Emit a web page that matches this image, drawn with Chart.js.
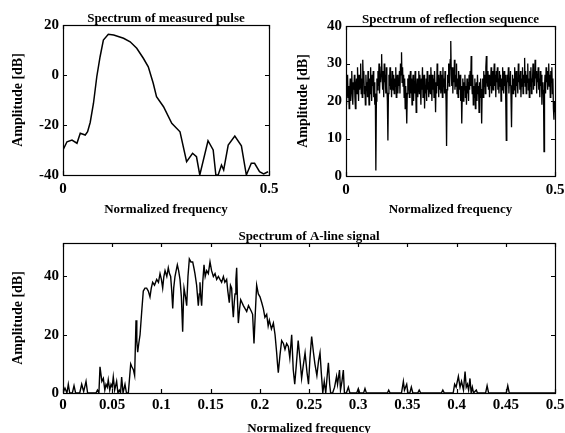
<!DOCTYPE html>
<html>
<head>
<meta charset="utf-8">
<script src="https://cdn.jsdelivr.net/npm/chart.js@4.4.1/dist/chart.umd.min.js"></script>
<style>
	html, body { margin: 0; padding: 0; background: #fff; overflow: hidden; width: 565px; height: 433px; }
	canvas { position: absolute; }
</style>
</head>
<body>
<canvas id="pulse" width="290" height="220" style="left:0;top:0"></canvas>
<canvas id="refl" width="285" height="220" style="left:280px;top:0"></canvas>
<canvas id="aline" width="565" height="217" style="left:0;top:220px"></canvas>
<script>
// ---- data ----
const pulseFreq = [0, 0.0097, 0.0218, 0.0339, 0.0419, 0.054, 0.0597, 0.066, 0.074, 0.082, 0.09, 0.098, 0.11, 0.123, 0.147, 0.163, 0.179, 0.195, 0.207, 0.219, 0.227, 0.244, 0.264, 0.284, 0.3, 0.3145, 0.324, 0.332, 0.352, 0.3645, 0.371, 0.3766, 0.3847, 0.39, 0.401, 0.417, 0.433, 0.445, 0.457, 0.465, 0.477, 0.487, 0.4976];
const pulseAmp = [-30, -26.7, -26, -27.3, -23.3, -24, -22.7, -19, -11.3, -0.7, 7.3, 14, 16.3, 16, 14.7, 13.3, 10.7, 6.7, 3.3, -3.3, -8.7, -12.7, -19.3, -22.7, -34.7, -31.3, -32.7, -40, -26.3, -30, -40, -40, -36, -38, -28, -24.4, -28.3, -40, -35.3, -35.3, -38.7, -39.6, -38.7];

// reflection sequence spectrum, evenly sampled from 0 to 0.5
const reflAmp = [
	23, 19, 25, 27, 21, 24, 18, 22, 26, 20, 24, 28, 22, 19, 25, 23, 27, 21, 18, 24,
	26, 22, 29, 24, 20, 27, 23, 25, 30, 22, 26, 21, 31, 25, 28, 22, 24, 19, 27, 23,
	25, 21, 28, 24, 19, 26, 22, 29, 23, 20, 27, 24, 28, 21, 25, 19, 22, 1.5, 20, 26,
	23, 28, 24, 30, 22, 27, 25, 29, 32.5, 26, 23, 28, 21, 30, 25, 27, 22, 29, 24, 20,
	9.5, 22, 27, 24, 29, 23, 26, 21, 28, 25, 23, 27, 22, 26, 24, 29, 21, 25, 27, 22,
	26, 24, 28, 22, 30, 27, 33, 25, 29, 24, 27, 21, 26, 18, 24, 20, 14, 22, 26, 23,
	27, 21, 25, 28, 22, 26, 19, 24, 27, 20, 25, 22, 28, 24, 17, 23, 26, 21, 25, 28,
	22, 27, 24, 19, 26, 23, 29, 21, 25, 27, 18, 24, 22, 26, 20, 28, 23, 25, 21, 27,
	24, 22, 29, 25, 20, 27, 23, 26, 21, 28, 24, 17, 25, 22, 30, 24, 27, 21, 26, 23,
	28, 22, 25, 27, 21, 29, 24, 26, 22, 28, 25, 20, 8, 23, 27, 25, 30, 24, 28, 31,
	36, 27, 24, 29, 22, 28, 25, 31, 23, 27, 24, 30, 22, 26, 21, 28, 25, 23, 27, 20,
	24, 14, 22, 26, 20, 25, 23, 27, 21, 24, 19, 26, 22, 25, 20, 27, 23, 28, 24, 32,
	25, 22, 27, 19, 24, 21, 26, 18, 23, 25, 20, 27, 22, 24, 17, 25, 21, 26, 22, 14,
	23, 26, 21, 28, 24, 27, 22, 29, 32, 26, 24, 28, 23, 27, 21, 26, 24, 29, 22, 25,
	28, 23, 26, 30, 24, 27, 21, 28, 25, 29, 23, 26, 22, 28, 24, 27, 20, 26, 23, 29,
	25, 22, 28, 24, 27, 20, 9.5, 23, 27, 25, 29, 22, 26, 24, 28, 21, 13, 24, 27, 22,
	26, 23, 29, 25, 21, 28, 24, 26, 22, 30, 25, 27, 23, 28, 21, 26, 24, 29, 22, 27,
	25, 31.5, 24, 28, 22, 27, 25, 30, 23, 26, 21, 28, 24, 29, 22, 26, 25, 30, 23, 27,
	24, 31, 26, 28, 22, 27, 25, 29, 23, 26, 21, 28, 24, 27, 19, 25, 22, 23, 6.5, 24,
	27, 22, 29, 25, 28, 23, 26, 30, 24, 27, 21, 28, 25, 29, 22, 26, 18, 15, 20, 17,
];

const alineFreq = [
	0, 0.002, 0.004, 0.0054, 0.0068, 0.0095, 0.0112, 0.0128, 0.017, 0.019, 0.021, 0.0234, 0.025,
	0.0335, 0.035, 0.0365, 0.0376, 0.0395, 0.041, 0.0425, 0.0437, 0.045, 0.046, 0.0475, 0.0488, 0.05,
	0.0511, 0.0525, 0.0545, 0.0558, 0.0572, 0.0585, 0.0596, 0.061, 0.063, 0.0645, 0.0664,
	0.0688, 0.07, 0.0715, 0.0728, 0.0742, 0.075, 0.0759, 0.077, 0.0783, 0.08, 0.0816, 0.0833, 0.085,
	0.0867, 0.0884, 0.0897, 0.0911, 0.093, 0.0952, 0.097, 0.0986, 0.1, 0.1013, 0.1025, 0.1037, 0.1055,
	0.107, 0.1082, 0.1094, 0.1105, 0.1115, 0.1125, 0.1138, 0.115, 0.1162, 0.1175, 0.1189, 0.1203,
	0.1216, 0.1223, 0.123, 0.1245, 0.1257, 0.127, 0.1284, 0.13, 0.1318, 0.133, 0.1341, 0.1358, 0.1375,
	0.1385, 0.1392, 0.14, 0.1409, 0.142, 0.1433, 0.1445, 0.146, 0.1477, 0.1494, 0.151, 0.1528, 0.1545,
	0.1562, 0.1579, 0.1595, 0.1612, 0.163, 0.1645, 0.1663, 0.1675, 0.169, 0.1702, 0.1714, 0.1722,
	0.1731, 0.174, 0.1748, 0.1757, 0.1765, 0.1773, 0.1782, 0.1795, 0.1806, 0.182, 0.1833, 0.185,
	0.1867, 0.1885, 0.19, 0.1915, 0.1927, 0.1934, 0.1941, 0.1955, 0.1968, 0.1985, 0.2002, 0.202,
	0.2036, 0.2052, 0.207, 0.2085, 0.2097, 0.2118, 0.2138, 0.2155, 0.2171, 0.218, 0.2188, 0.2205,
	0.2222, 0.224, 0.2256, 0.2273, 0.229, 0.2305, 0.2324, 0.234, 0.2355, 0.2372, 0.239, 0.241, 0.2425,
	0.244, 0.246, 0.248, 0.2495, 0.251, 0.2527, 0.2545, 0.256, 0.258, 0.2597, 0.2612, 0.2625, 0.264,
	0.2655, 0.267, 0.2685, 0.2697, 0.271, 0.272, 0.274, 0.276, 0.278, 0.279, 0.281, 0.282, 0.2835,
	0.2849, 0.286, 0.288, 0.29, 0.2915, 0.2985, 0.3001, 0.3015, 0.3055, 0.3069, 0.3083, 0.3297, 0.331,
	0.3324, 0.344, 0.3459, 0.347, 0.3493, 0.3505, 0.3525, 0.354, 0.3555, 0.3605, 0.362, 0.3635, 0.3845,
	0.386, 0.3875, 0.3965, 0.398, 0.3995, 0.4018, 0.4035, 0.405, 0.407, 0.4086, 0.4098, 0.411, 0.4122,
	0.4136, 0.4148, 0.416, 0.4172, 0.42, 0.4212, 0.4295, 0.431, 0.4325, 0.4505, 0.452, 0.4535, 0.5,
];
const alineAmp = [
	0, 1.7, 0, 3, 0, 0, 2.5, 0, 0, 3, 0.5, 4, 0,
	0, 1, 0, 9, 4, 5, 1, 3, 2, 4.5, 1, 3, 2,
	5.5, 1, 4, 0, 1, 0, 5.5, 0, 3, 0, 0,
	10, 9, 8, 6, 25, 18, 14, 17, 20, 28, 35, 36, 36,
	35, 33, 36, 38, 37, 39, 38, 41, 39, 36, 40, 42, 40,
	43, 41, 40, 35, 29, 36, 40, 42, 44, 42, 39, 33,
	21, 30, 36, 33, 30, 40, 46, 45, 45, 43, 41, 37, 30,
	34, 38, 33, 30, 38, 44, 40, 42, 41, 45, 42, 40, 41,
	39, 40, 39, 38, 40, 38, 39, 35, 31, 37, 36, 30,
	26, 31, 34, 39, 43, 32, 24, 29, 32, 31, 30, 29,
	28, 30, 29, 28, 27, 22, 17, 28, 37, 34, 33, 31,
	29, 26, 27, 23, 25, 22, 24, 20, 14, 10, 7, 13,
	18, 17, 15, 17, 16, 12, 20, 8, 3, 10, 18, 11, 5,
	9, 13.8, 7, 3, 12, 19.4, 14, 10, 6, 11, 13.8, 7, 0,
	4, 0, 6, 10.4, 3, 0, 0, 2, 5.7, 3, 7.9, 1, 4,
	7.9, 0, 0, 2, 0, 0, 1.5, 0, 0, 1.5, 0, 0, 1,
	0, 0, 4, 1, 3, 0, 0, 2, 0, 0, 1, 0, 0,
	1, 0, 0, 3, 2, 5.7, 2, 4, 1, 7.4, 2, 3, 1,
	5, 0, 2, 0, 1, 0, 0, 2.5, 0, 0, 2.5, 0, 0,
];

// ticks
const freqTicksPair = [0, 0.5];
const freqTicksFine = [0, 0.05, 0.1, 0.15, 0.2, 0.25, 0.3, 0.35, 0.4, 0.45, 0.5];
const pulseYTicks = [-40, -20, 0, 20];
const reflYTicks = [0, 10, 20, 30, 40];
const alineYTicks = [0, 20, 40];

const SERIF = "'Liberation Serif', 'Times New Roman', serif";

// box round the plot plus inward tick marks on all four sides
const boxPlugin = {
	id: "box",
	afterDraw(chart) {
		const { ctx, chartArea: a, scales } = chart;
		const len = 4;
		ctx.save();
		ctx.strokeStyle = "#000";
		ctx.lineWidth = 1.2;
		ctx.strokeRect(a.left + 0.5, a.top + 0.5, a.right - a.left, a.bottom - a.top);
		ctx.beginPath();
		scales.x.ticks.forEach((t) => {
			let px = Math.round(scales.x.getPixelForValue(t.value)) + 0.5;
			ctx.moveTo(px, a.bottom);
			ctx.lineTo(px, a.bottom - len);
			ctx.moveTo(px, a.top);
			ctx.lineTo(px, a.top + len);
		});
		scales.y.ticks.forEach((t) => {
			let py = Math.round(scales.y.getPixelForValue(t.value)) + 0.5;
			ctx.moveTo(a.left, py);
			ctx.lineTo(a.left + len, py);
			ctx.moveTo(a.right, py);
			ctx.lineTo(a.right - len, py);
		});
		ctx.stroke();
		ctx.restore();
	},
};

function fmt(v) {
	return String(Math.round(v * 100) / 100);
}

function makePlot(id, o) {
	new Chart(document.getElementById(id).getContext("2d"), {
		type: "line",
		data: {
			datasets: [
				{
					data: o.points,
					borderColor: "#000",
					borderWidth: o.lineWidth,
					pointRadius: 0,
					tension: 0,
					fill: false,
				},
			],
		},
		options: {
			responsive: false,
			animation: false,
			layout: { padding: { left: 0, right: o.padRight, top: 0, bottom: 0 } },
			plugins: {
				legend: { display: false },
				tooltip: { enabled: false },
				title: {
					display: true,
					text: o.title,
					color: "#000",
					fullSize: false,
					font: { family: SERIF, size: 13, weight: "bold", lineHeight: 1 },
					padding: { top: o.titleTop, bottom: 0 },
				},
			},
			scales: {
				x: {
					type: "linear",
					min: 0,
					max: 0.5,
					grid: { display: false, drawTicks: false },
					border: { display: false },
					ticks: {
						color: "#000",
						padding: o.xTickPad,
						maxRotation: 0,
						font: { family: SERIF, size: 15, weight: "bold" },
						callback: (v) => fmt(v),
					},
					title: {
						display: true,
						text: "Normalized frequency",
						color: "#000",
						font: { family: SERIF, size: 13, weight: "bold", lineHeight: 1 },
						padding: { top: 0, bottom: o.xTitlePad },
					},
					afterBuildTicks: (s) => {
						s.ticks = o.xTicks.map((v) => ({ value: v }));
					},
					afterFit: (s) => {
						s.height = o.xHeight;
						s.paddingLeft = 0;
						s.paddingRight = 0;
					},
				},
				y: {
					min: o.yMin,
					max: o.yMax,
					grid: { display: false, drawTicks: false },
					border: { display: false },
					ticks: {
						color: "#000",
						padding: 4,
						font: { family: SERIF, size: 15, weight: "bold" },
					},
					title: {
						display: true,
						text: "Amplitude [dB]",
						color: "#000",
						font: { family: SERIF, size: 14, weight: "bold", lineHeight: 1 },
						padding: { top: o.yTitlePad, bottom: 0 },
					},
					afterBuildTicks: (s) => {
						s.ticks = o.yTicks.map((v) => ({ value: v }));
					},
					afterFit: (s) => {
						s.width = o.yWidth;
						s.paddingTop = 0;
						s.paddingBottom = 0;
					},
				},
			},
		},
		plugins: [boxPlugin],
	});
}

makePlot("pulse", {
	title: "Spectrum of measured pulse",
	points: pulseFreq.map((f, i) => ({ x: f, y: pulseAmp[i] })),
	xTicks: freqTicksPair,
	yTicks: pulseYTicks,
	yMin: -40,
	yMax: 20,
	lineWidth: 1.5,
	padRight: 21,
	titleTop: 12,
	xHeight: 45,
	xTickPad: 5,
	xTitlePad: 4,
	yWidth: 63,
	yTitlePad: 11,
});

makePlot("refl", {
	title: "Spectrum of reflection sequence",
	points: reflAmp.map((v, i) => ({ x: (i * 0.5) / (reflAmp.length - 1), y: v })),
	xTicks: freqTicksPair,
	yTicks: reflYTicks,
	yMin: 0,
	yMax: 40,
	lineWidth: 1.3,
	padRight: 10,
	titleTop: 13,
	xHeight: 44,
	xTickPad: 5,
	xTitlePad: 4,
	yWidth: 66,
	yTitlePad: 16,
});

makePlot("aline", {
	title: "Spectrum of A-line signal",
	points: alineFreq.map((f, i) => ({ x: f, y: alineAmp[i] })),
	xTicks: freqTicksFine,
	yTicks: alineYTicks,
	yMin: 0,
	yMax: 51.5,
	lineWidth: 1.4,
	padRight: 10,
	titleTop: 10,
	xHeight: 44,
	xTickPad: 3,
	xTitlePad: 1.5,
	yWidth: 63,
	yTitlePad: 11,
});
</script>
</body>
</html>
